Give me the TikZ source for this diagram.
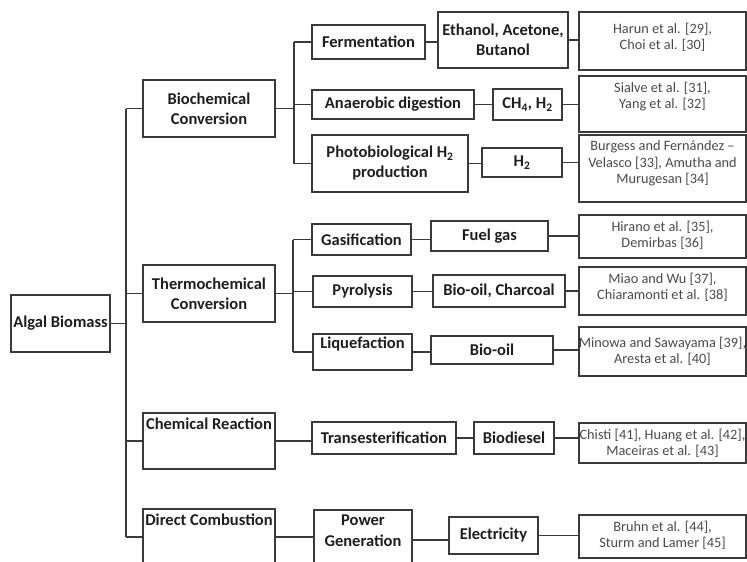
\documentclass[tikz,border=0pt]{standalone}
\usepackage{fontspec}
\setmainfont{Carlito}
\definecolor{linecol}{HTML}{3A3A3A}
\definecolor{refcol}{HTML}{4A4A4A}
\definecolor{txtcol}{HTML}{1E1E1E}
\begin{document}
\begin{tikzpicture}[x=1pt, y=-1pt, line width=1.2pt,
  box/.style={draw=linecol, text=txtcol, align=center, inner sep=2pt,
    font=\bfseries\fontsize{16.5}{20}\selectfont},
  toptxt/.style={anchor=north, align=center, inner sep=2pt, yshift=-3pt, text=txtcol,
    font=\bfseries\fontsize{16.5}{21}\selectfont},
  ref/.style={draw=linecol, minimum width=167pt},
  reftxt/.style={anchor=north, align=center, inner sep=2pt, yshift=-4pt, text=refcol,
    font=\fontsize{14.3}{16.5}\selectfont},
  con/.style={draw=linecol}]
\clip (0,0) rectangle (747,562);
% Stamm
\node[box, minimum width=99pt, minimum height=57pt] (alg) at (60.5,323.5) {Algal Biomass};
% erste Ebene
\node[box, minimum width=132pt, minimum height=57pt] (bio) at (209,108.5) {Biochemical\\Conversion};
\node[box, minimum width=132pt, minimum height=57pt] (thermo) at (209,293.5) {Thermochemical\\Conversion};
\node[box, minimum width=132pt, minimum height=56pt,
  label={[toptxt, name=chemt]north:Chemical Reaction}] (chem) at (209,441) {};
\node[box, minimum width=132pt, minimum height=56pt,
  label={[toptxt, name=dct]north:Direct Combustion}] (dc) at (209,537) {};
% Verfahren
\node[box, minimum width=113pt, minimum height=34pt] (ferm) at (368.5,42) {Fermentation};
\node[box, minimum width=162pt, minimum height=29pt] (anaer) at (393,104.5) {Anaerobic digestion};
\node[box, minimum width=156pt, minimum height=57pt] (photo) at (390,163.5) {Photobiological H\textsubscript{2}\\production};
\node[box, minimum width=99pt, minimum height=31pt] (gas) at (361.5,239.5) {Gasification};
\node[box, minimum width=99pt, minimum height=31pt] (pyro) at (362.5,291.5) {Pyrolysis};
\node[box, minimum width=99pt, minimum height=36pt,
  label={[toptxt, name=liqt, yshift=2pt]north:Liquefaction}] (liq) at (362.5,352) {};
\node[box, minimum width=144pt, minimum height=32pt] (trans) at (384,438) {Transesterification};
\node[box, minimum width=98pt, minimum height=60pt,
  label={[toptxt, name=powt]north:Power\\Generation}] (pow) at (363,540) {};
% Produkte
\node[box, minimum width=130pt, minimum height=56pt] (eth) at (503,40) {Ethanol, Acetone,\\Butanol};
\node[box, minimum width=69pt, minimum height=31pt] (ch4) at (527.5,104.5) {CH\textsubscript{4}, H\textsubscript{2}};
\node[box, minimum width=80pt, minimum height=29pt] (htwo) at (522,162.5) {H\textsubscript{2}};
\node[box, minimum width=117pt, minimum height=30pt] (fuel) at (489.5,236) {Fuel gas};
\node[box, minimum width=132pt, minimum height=32pt] (bco) at (499,291) {Bio-oil, Charcoal};
\node[box, minimum width=122pt, minimum height=28pt] (boil) at (492,350) {Bio-oil};
\node[box, minimum width=80pt, minimum height=32pt] (biod) at (514,438) {Biodiesel};
\node[box, minimum width=89pt, minimum height=37pt] (elec) at (493.5,535.5) {Electricity};
% Literatur
\node[ref, minimum height=58pt,
  label={[reftxt, name=r1t, yshift=-5pt]north:{Harun et al. [29],\\Choi et al. [30]}}] (r1) at (662.5,41) {};
\node[ref, minimum height=56pt,
  label={[reftxt, name=r2t]north:{Sialve et al. [31],\\Yang et al. [32]}}] (r2) at (662.5,104) {};
\node[ref, minimum height=67pt,
  label={[reftxt, name=r3t]north:{Burgess and Fernández –\\Velasco [33], Amutha and\\Murugesan [34]}}] (r3) at (662.5,168.5) {};
\node[ref, minimum height=43pt,
  label={[reftxt, name=r4t]north:{Hirano et al. [35],\\Demirbas [36]}}] (r4) at (662.5,236.5) {};
\node[ref, minimum height=48pt,
  label={[reftxt, name=r5t]north:{Miao and Wu [37],\\Chiaramonti et al. [38]}}] (r5) at (662.5,291) {};
\node[ref, minimum height=49pt,
  label={[reftxt, name=r6t, yshift=-4pt]north:{Minowa and Sawayama [39],\\Aresta et al. [40]}}] (r6) at (662.5,351.5) {};
\node[ref, minimum height=40pt,
  label={[reftxt, name=r7t]north:{Chisti [41], Huang et al. [42],\\Maceiras et al. [43]}}] (r7) at (662.5,443) {};
\node[ref, minimum height=43pt,
  label={[reftxt, name=r8t]north:{Bruhn et al. [44],\\Sturm and Lamer [45]}}] (r8) at (662.5,536.5) {};
% Verbindungen: Stamm
\coordinate (tk) at (126,0);
\draw[con] (alg.east) -- (alg.east -| tk);
\draw[con] (tk |- bio.west) -- (tk |- dc.west);
\foreach \n in {bio,thermo,chem,dc}
  \draw[con] (tk |- \n.west) -- (\n.west);
% biochemisch
\coordinate (bk) at (294,0);
\draw[con] (bio.east) -- (bio.east -| bk);
\draw[con] (bk |- ferm.west) -- (bk |- photo.west);
\foreach \n in {ferm,anaer,photo}
  \draw[con] (bk |- \n.west) -- (\n.west);
% thermochemisch
\coordinate (tck) at (293,0);
\draw[con] (thermo.east) -- (thermo.east -| tck);
\draw[con] (tck |- gas.west) -- (tck |- liq.west);
\foreach \n in {gas,pyro,liq}
  \draw[con] (tck |- \n.west) -- (\n.west);
% chemisch und Verbrennung
\draw[con] (chem.east) -- (chem.east -| trans.west);
\draw[con] (dc.east) -- (dc.east -| pow.west);
% Ketten
\foreach \a/\b/\c in {ferm/eth/r1, anaer/ch4/r2, photo/htwo/r3, gas/fuel/r4,
                      pyro/bco/r5, liq/boil/r6, trans/biod/r7, pow/elec/r8}{
  \draw[con] (\a.east) -- (\a.east -| \b.west);
  \draw[con] (\b.east) -- (\b.east -| \c.west);
}
\end{tikzpicture}
\end{document}
